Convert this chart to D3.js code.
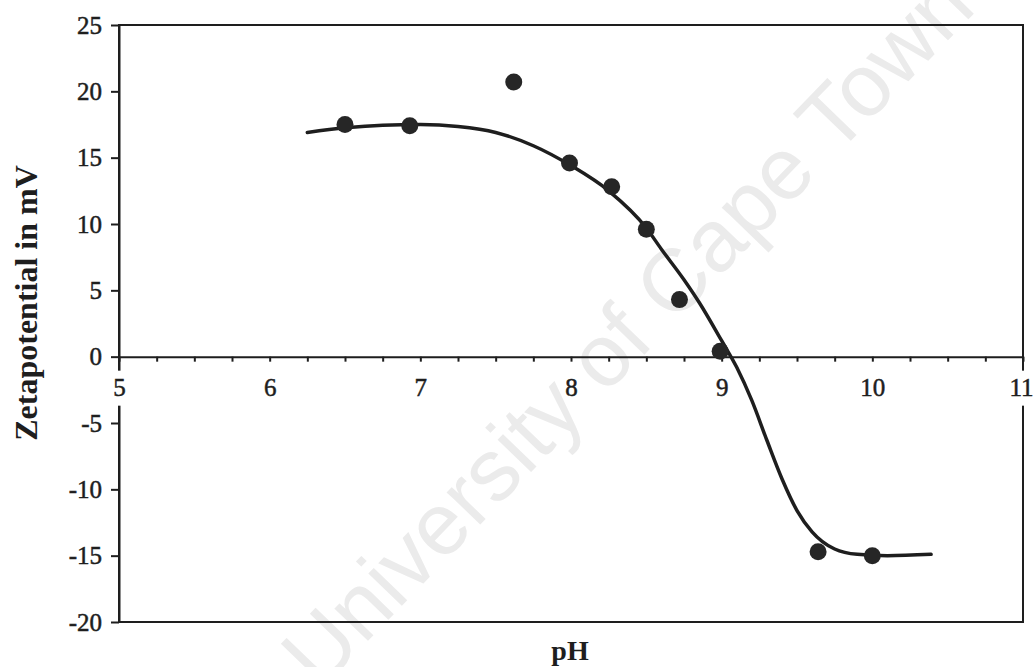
<!DOCTYPE html>
<html>
<head>
<meta charset="utf-8">
<script src="https://cdn.jsdelivr.net/npm/d3@7"></script>
<style>
  body { margin: 0; background: white; }
  svg { display: block; }
</style>
</head>
<body>
<div id="Canvas"></div>
<script>
// measured points: pH vs zeta potential (mV)
const pH_points = [6.5, 6.93, 7.62, 7.99, 8.27, 8.5, 8.72, 8.99, 9.64, 10.0]
const zeta_points = [17.5, 17.4, 20.7, 14.6, 12.8, 9.6, 4.3, 0.4, -14.7, -15.0]

// fitted curve
const fit_pH = [6.25, 6.5, 6.75, 7.0, 7.25, 7.5, 7.75, 8.0, 8.25, 8.5, 8.6, 8.75, 8.85, 9.0, 9.1, 9.2, 9.3, 9.4, 9.5, 9.6, 9.75, 9.9, 10.1, 10.39]
const fit_zeta = [16.9, 17.25, 17.45, 17.5, 17.35, 16.9, 15.9, 14.4, 12.5, 9.7, 8.1, 5.8, 4.1, 1.2, -0.8, -3.3, -6.3, -9.2, -11.6, -13.2, -14.5, -14.9, -15.0, -14.9]

const x_ticks = d3.range(5, 11.001, 0.25)
const y_ticks = [-20, -15, -10, -5, 0, 5, 10, 15, 20, 25]
const x_title = "pH"
const y_title = "Zetapotential in mV"
const watermark = "University of Cape Town"

const W = 1034, H = 667
const ink = "#1e1e1e"
const font = "'Liberation Serif', 'Times New Roman', serif"

let svg = d3.select("#Canvas").append("svg")
    .attr("width", W).attr("height", H)
    .style("background", "white")

let X = d3.scaleLinear().domain([5, 11]).range([119, 1023])
let Y = d3.scaleLinear().domain([-20, 25]).range([622, 25])

// faint scan watermark
svg.append("text")
    .attr("transform", "translate(632,334) rotate(-46)")
    .attr("text-anchor", "middle")
    .attr("dominant-baseline", "middle")
    .style("font-family", "'Liberation Sans', Arial, sans-serif")
    .style("font-size", "88px")
    .style("fill", "#ebebeb")
    .text(watermark)

// plot frame
svg.append("rect")
    .attr("x", X(5)).attr("y", Y(25))
    .attr("width", X(11) - X(5)).attr("height", Y(-20) - Y(25))
    .attr("fill", "none").attr("stroke", ink).attr("stroke-width", 2)

// y axis
let yAxis = d3.axisLeft(Y).tickValues(y_ticks).tickSize(8).tickPadding(9).tickSizeOuter(0)
    .tickFormat(d => String(d))
let gy = svg.append("g").attr("transform", `translate(${X(5)},0)`).call(yAxis)
gy.select(".domain").attr("stroke", ink).attr("stroke-width", 2)
gy.selectAll(".tick line").attr("stroke", ink).attr("stroke-width", 2)
gy.selectAll(".tick text")
    .style("font-family", font).style("font-size", "25px").style("fill", ink)
    .style("stroke", ink).style("stroke-width", 0.5)

// x axis through zero
let xAxis = d3.axisBottom(X).tickValues(x_ticks).tickSize(5).tickPadding(17).tickSizeOuter(0)
    .tickFormat(d => Number.isInteger(d) ? d : "")
let gx = svg.append("g").attr("transform", `translate(0,${Y(0)})`).call(xAxis)
gx.select(".domain").attr("stroke", ink).attr("stroke-width", 2)
gx.selectAll(".tick line").attr("stroke", ink).attr("stroke-width", 2)
// white gap in the frame behind the edge labels (5 and 11)
gx.selectAll(".tick").filter(d => d === 5 || d === 11)
    .insert("rect", "text")
    .attr("x", -9).attr("y", 14).attr("width", 18).attr("height", 35)
    .attr("fill", "white")
gx.selectAll(".tick text")
    .style("font-family", font).style("font-size", "25px").style("fill", ink)
    .style("stroke", ink).style("stroke-width", 0.5)
// keep "11" inside the page
gx.selectAll(".tick").filter(d => d === 11).select("text")
    .attr("text-anchor", "end").attr("x", 10)

// fit line
let fit = fit_pH.map((p, i) => [p, fit_zeta[i]])
let line = d3.line().x(d => X(d[0])).y(d => Y(d[1])).curve(d3.curveMonotoneX)
svg.append("path")
    .attr("d", line(fit))
    .attr("fill", "none").attr("stroke", ink).attr("stroke-width", 3.5)
    .attr("stroke-linecap", "round")

// data points
svg.append("g").selectAll("circle")
    .data(pH_points).enter()
    .append("circle")
    .attr("cx", d => X(d))
    .attr("cy", (d, i) => Y(zeta_points[i]))
    .attr("r", 8.5)
    .attr("fill", "#262626")

// titles
svg.append("text")
    .attr("x", 570).attr("y", 660)
    .attr("text-anchor", "middle")
    .style("font-family", font).style("font-size", "28px").style("font-weight", "bold")
    .style("fill", ink)
    .text(x_title)

svg.append("text")
    .attr("transform", "translate(37,303) rotate(-90)")
    .attr("text-anchor", "middle")
    .style("font-family", font).style("font-size", "32px").style("font-weight", "bold")
    .style("fill", ink)
    .text(y_title)
</script>
</body>
</html>
